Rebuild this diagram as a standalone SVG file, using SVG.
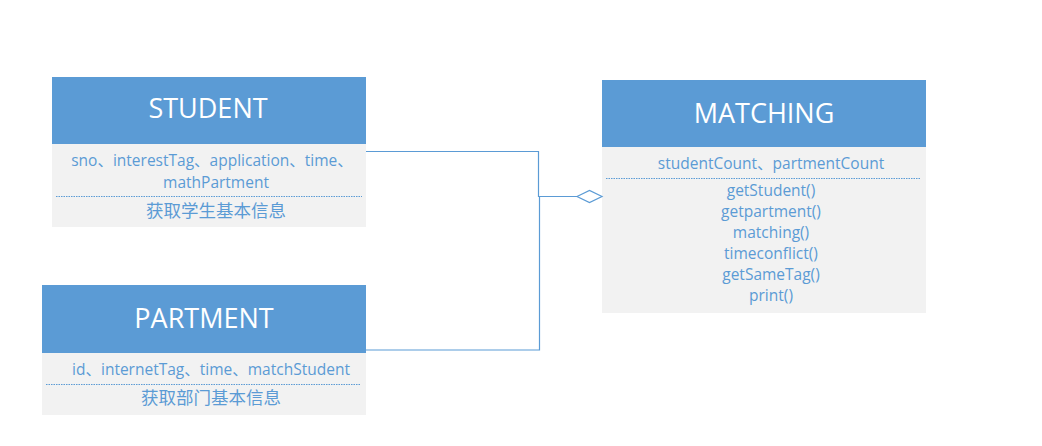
<svg xmlns="http://www.w3.org/2000/svg" width="1042" height="446" viewBox="0 0 1042 446">
<style>
.hd{fill:#5b9bd5}
.bd{fill:#f2f2f2}
.ht{font-family:"Open Sans","Liberation Sans",sans-serif;font-size:27px;fill:#ffffff;text-anchor:middle}
.t{font-family:"Open Sans","Noto Sans CJK SC",sans-serif;font-size:15.5px;fill:#5b9bd5;text-anchor:middle}
.cn{font-family:"Noto Sans CJK SC",sans-serif;font-size:17.5px;fill:#5b9bd5;text-anchor:middle}
.dot{stroke:#5b9bd5;stroke-width:1;stroke-dasharray:1.5 1}
.conn{fill:none;stroke:#5b9bd5;stroke-width:1.2}
</style>
<rect width="1042" height="446" fill="#ffffff"/>
<g id="student">
<rect class="hd" x="52" y="77" width="314" height="67"/>
<rect class="bd" x="52" y="144" width="314" height="83"/>
<text class="ht" x="208" y="118">STUDENT</text>
<text class="t" x="212" y="166">sno、interestTag、application、time、</text>
<text class="t" x="216" y="188">mathPartment</text>
<line class="dot" x1="56" y1="196.5" x2="362" y2="196.5"/>
<text class="cn" x="216" y="217">获取学生基本信息</text>
</g>
<g id="partment">
<rect class="hd" x="42" y="285" width="324" height="68"/>
<rect class="bd" x="42" y="353" width="324" height="62"/>
<text class="ht" x="204" y="328">PARTMENT</text>
<text class="t" x="211" y="375">id、internetTag、time、matchStudent</text>
<line class="dot" x1="46" y1="384.5" x2="361" y2="384.5"/>
<text class="cn" x="211" y="404">获取部门基本信息</text>
</g>
<g id="matching">
<rect class="hd" x="602" y="80" width="324" height="67"/>
<rect class="bd" x="602" y="147" width="324" height="166"/>
<text class="ht" x="764" y="123">MATCHING</text>
<text class="t" x="771" y="169">studentCount、partmentCount</text>
<line class="dot" x1="606" y1="178.5" x2="921" y2="178.5"/>
<text class="t" x="771" y="196">getStudent()</text>
<text class="t" x="771" y="217">getpartment()</text>
<text class="t" x="771" y="238">matching()</text>
<text class="t" x="771" y="259">timeconflict()</text>
<text class="t" x="771" y="280">getSameTag()</text>
<text class="t" x="771" y="301">print()</text>
</g>
<g id="connectors">
<polyline class="conn" points="366,151.5 538.5,151.5 538.5,196.5 577,196.5"/>
<polyline class="conn" points="366,350 539.5,350 539.5,196.5"/>
<polygon class="conn" points="577,196.5 589.5,190.5 602,196.5 589.5,202.5" fill="#ffffff"/>
</g>
</svg>
